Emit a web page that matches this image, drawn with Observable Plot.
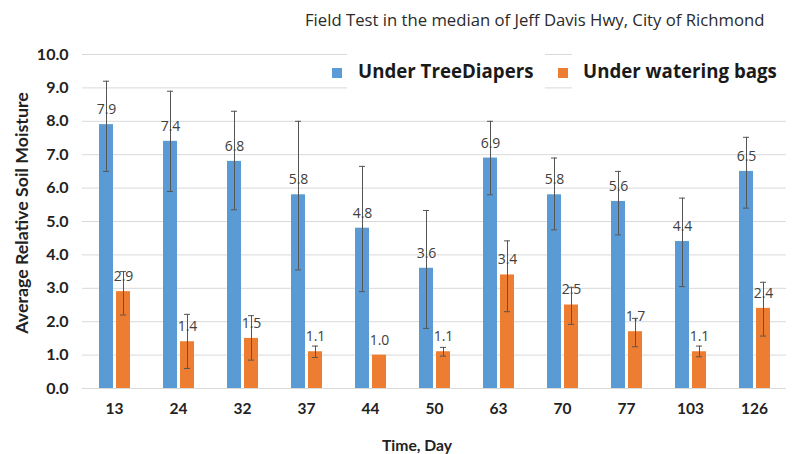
<!DOCTYPE html>
<html>
<head>
<meta charset="utf-8">
<script src="https://cdn.jsdelivr.net/npm/d3@7"></script>
<script src="https://cdn.jsdelivr.net/npm/@observablehq/plot@0.6"></script>
<style>
  body { margin: 0; background: #fff; }
  #wrap { position: relative; width: 796px; height: 454px; font-family: Lato, "Open Sans", sans-serif; overflow: hidden; }
  #chart { position: absolute; left: 0; top: 0; }
  #title { position: absolute; left: 305px; top: 8px; white-space: nowrap; font-family: "Open Sans", Lato, sans-serif; font-size: 16.7px; color: #2a2a2a; }
  #legend { position: absolute; left: 322px; top: 57px; width: 470px; height: 31px; font-family: "Open Sans", sans-serif; font-weight: bold; font-size: 18.7px; color: #1a1a1a; }
  .bg { position: absolute; top: -7px; height: 42px; background: #fff; }
  .sw { position: absolute; top: 11px; width: 10px; height: 10px; }
  .lt { position: absolute; top: 1px; white-space: nowrap; }
  #ylabel { position: absolute; left: 21px; top: 213px; transform: translate(-50%, -50%) rotate(-90deg); white-space: nowrap; font-weight: bold; font-size: 17.8px; color: #222; }
  #xlabel { position: absolute; left: 417px; top: 445px; transform: translate(-50%, -50%); white-space: nowrap; font-weight: bold; font-size: 15.7px; color: #222; }
</style>
</head>
<body>
<div id="wrap">
  <div id="chart"></div>
  <div id="title">Field Test in the median of Jeff Davis Hwy, City of Richmond</div>
  <div id="legend">
    <span class="bg" style="left:25px;width:198px"></span>
    <span class="bg" style="left:250px;width:230px"></span>
    <span class="sw" style="left:10px;background:#5B9BD5"></span><span class="lt" style="left:36px">Under TreeDiapers</span>
    <span class="sw" style="left:236px;background:#ED7D31"></span><span class="lt" style="left:261px">Under watering bags</span>
  </div>
  <div id="ylabel">Average Relative Soil Moisture</div>
  <div id="xlabel">Time, Day</div>
</div>
<script>
const days = ["13", "24", "32", "37", "44", "50", "63", "70", "77", "103", "126"];
const seriesNames = ["Under TreeDiapers", "Under watering bags"];
const treeDiapers = [7.9, 7.4, 6.8, 5.8, 4.8, 3.6, 6.9, 5.8, 5.6, 4.4, 6.5];
const treeDiapersLow = [6.5, 5.9, 5.35, 3.55, 2.9, 1.8, 5.8, 4.75, 4.6, 3.05, 5.4];
const treeDiapersHigh = [9.2, 8.9, 8.3, 8.0, 6.65, 5.33, 8.0, 6.9, 6.5, 5.7, 7.52];
const wateringBags = [2.9, 1.4, 1.5, 1.1, 1.0, 1.1, 3.4, 2.5, 1.7, 1.1, 2.4];
const wateringBagsLow = [2.2, 0.6, 0.85, 0.93, 1.0, 0.97, 2.3, 1.92, 1.25, 0.95, 1.57];
const wateringBagsHigh = [3.5, 2.22, 2.18, 1.27, 1.0, 1.23, 4.42, 3.03, 2.1, 1.27, 3.18];
const yTicks = [0, 1, 2, 3, 4, 5, 6, 7, 8, 9, 10];

const rows = [];
days.forEach((d, i) => {
  rows.push({day: d, series: seriesNames[0], value: treeDiapers[i], lo: treeDiapersLow[i], hi: treeDiapersHigh[i]});
  rows.push({day: d, series: seriesNames[1], value: wateringBags[i], lo: wateringBagsLow[i], hi: wateringBagsHigh[i]});
});
const errRows = rows.filter(r => r.hi - r.lo > 0.01);

const chart = Plot.plot({
  width: 796,
  height: 454,
  marginTop: 54,
  marginBottom: 66,
  marginLeft: 80,
  marginRight: 8,
  style: {fontFamily: "Lato, sans-serif", background: "transparent"},
  fx: {domain: days, padding: 0, label: null, axis: null},
  x: {domain: seriesNames, paddingInner: 0.2, paddingOuter: 0.9, axis: null},
  y: {domain: [0, 10], axis: null},
  color: {domain: seriesNames, range: ["#5B9BD5", "#ED7D31"]},
  marks: [
    Plot.ruleY(yTicks, {y: d => d, stroke: "#d9d9d9", strokeWidth: 1}),
    Plot.barY(rows, {fx: "day", x: "series", y: "value", fill: "series"}),
    Plot.ruleX(errRows, {fx: "day", x: "series", y1: "lo", y2: "hi", stroke: "#555", strokeWidth: 1}),
    Plot.tickY(errRows, {fx: "day", x: "series", y: "hi", stroke: "#555", strokeWidth: 1, insetLeft: 4, insetRight: 4}),
    Plot.tickY(errRows, {fx: "day", x: "series", y: "lo", stroke: "#555", strokeWidth: 1, insetLeft: 4, insetRight: 4}),
    Plot.text(rows, {fx: "day", x: "series", y: "value", text: d => d.value.toFixed(1), dy: -15, fill: "#404040", fontSize: 14, fontFamily: "Open Sans, sans-serif"}),
    Plot.axisY({ticks: yTicks, tickFormat: d => d.toFixed(1), tickSize: 0, tickPadding: 14, fontSize: 16, fontWeight: "bold", fill: "#222", label: null}),
    Plot.axisFx({anchor: "bottom", tickSize: 0, tickPadding: 14, fontSize: 15.5, fontWeight: "bold", fill: "#222", label: null})
  ]
});
document.getElementById("chart").appendChild(chart);
</script>
</body>
</html>
